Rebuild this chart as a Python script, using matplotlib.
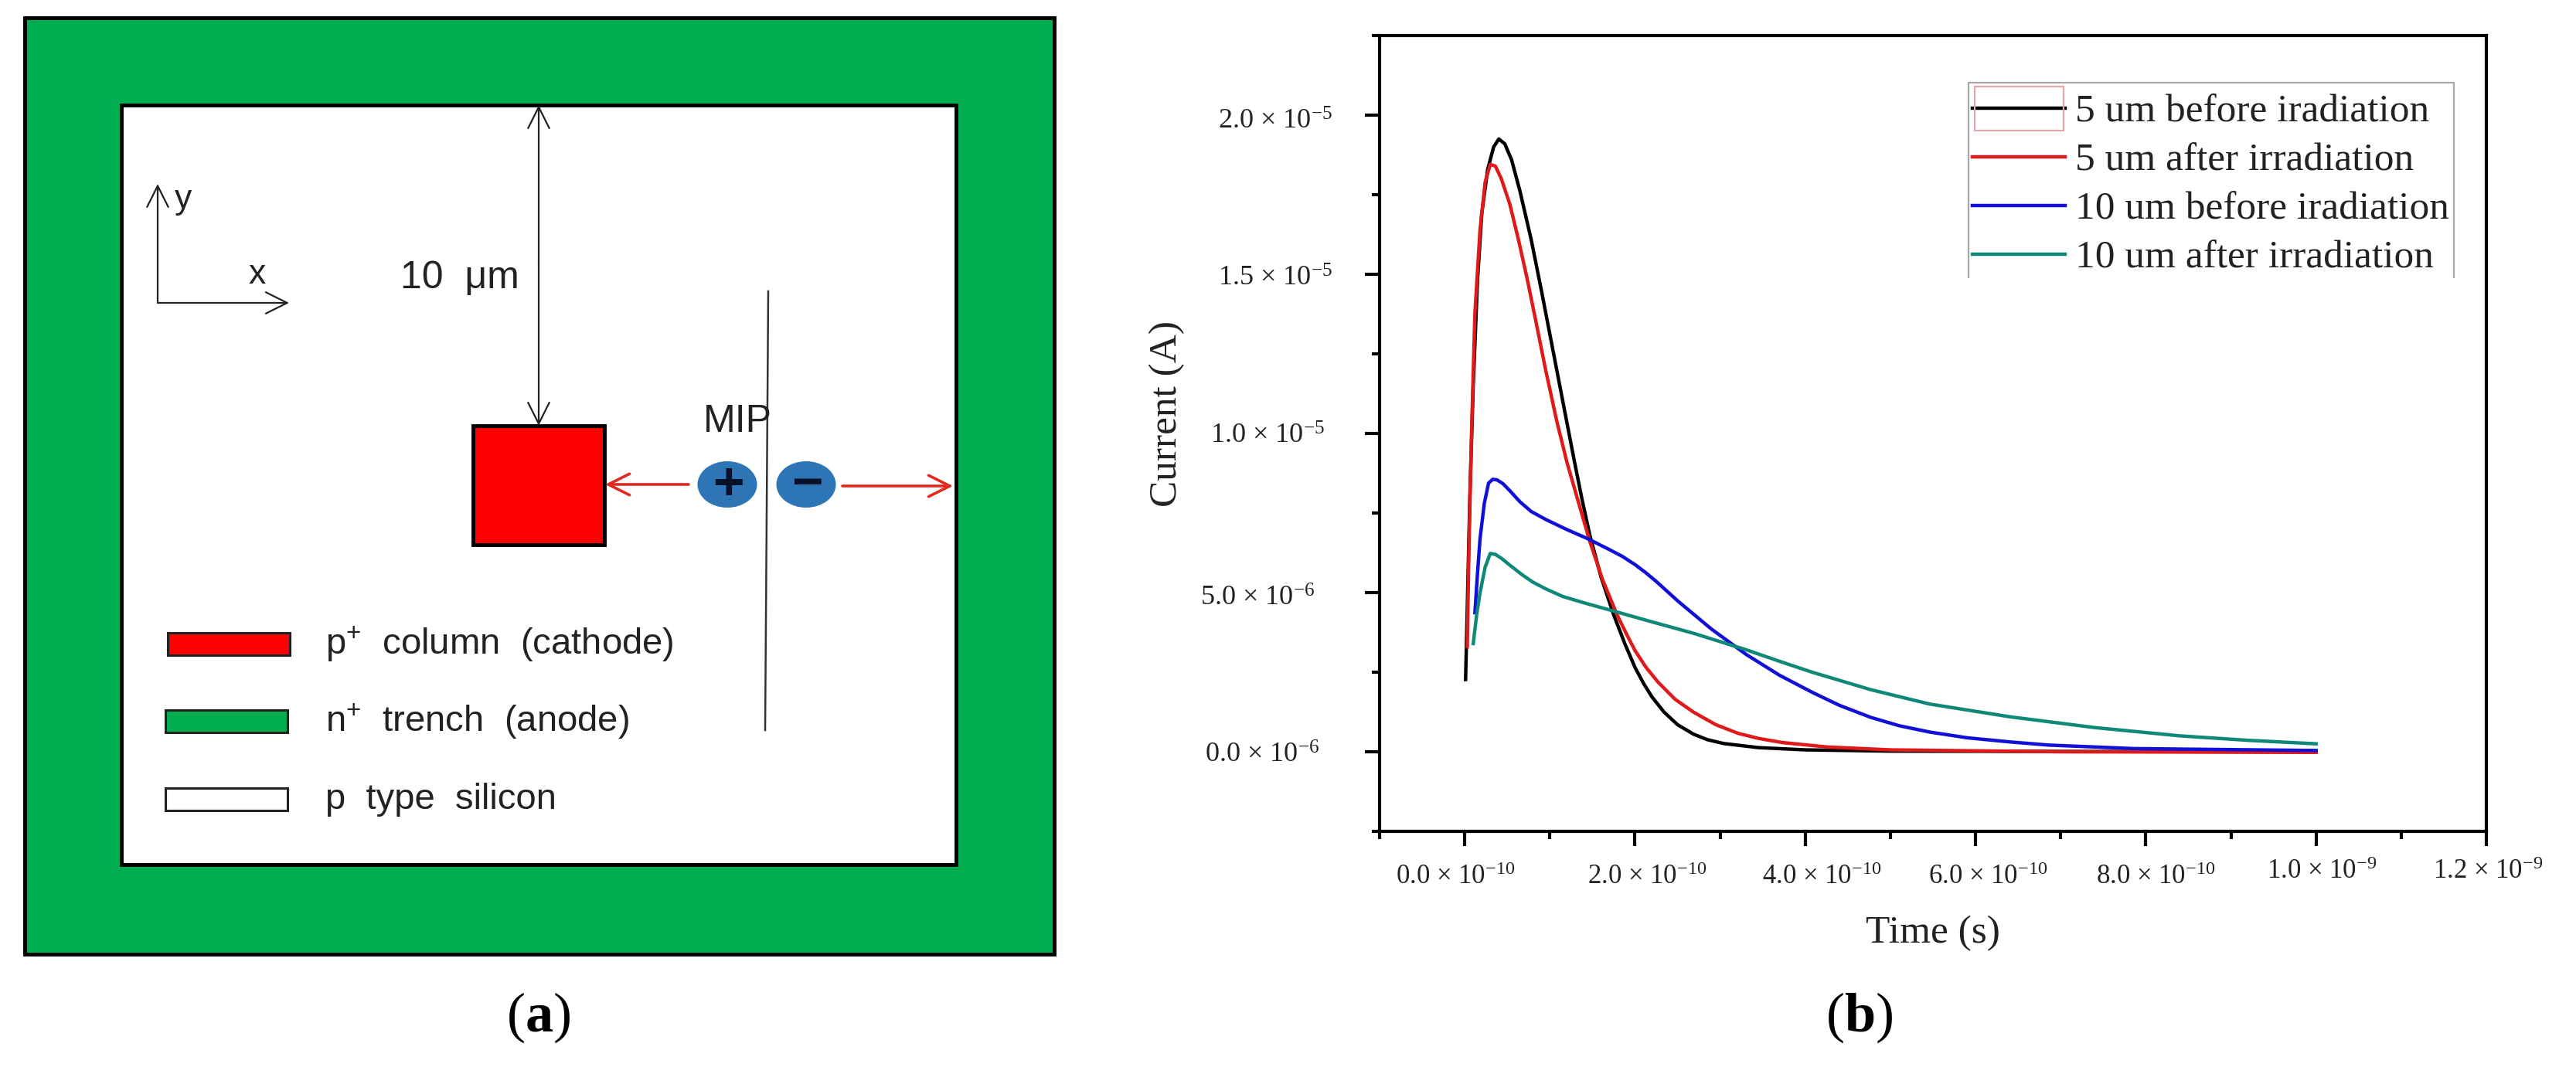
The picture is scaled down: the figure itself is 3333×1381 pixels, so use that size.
import matplotlib
matplotlib.use("Agg")
import matplotlib.pyplot as plt
from matplotlib.patches import Rectangle, Ellipse
from matplotlib.transforms import ScaledTranslation

plt.rcParams["mathtext.fontset"] = "custom"
plt.rcParams["mathtext.rm"] = "Liberation Serif"
plt.rcParams["mathtext.bf"] = "Liberation Serif:bold"
plt.rcParams["mathtext.default"] = "regular"

W, H = 3333, 1381
SERIF = "Liberation Serif"
SANS = "Liberation Sans"

# curves, time in 1e-10 s and current in 1e-6 A
t_black = [0.01, 0.03, 0.06, 0.10, 0.15, 0.20, 0.27, 0.34, 0.40, 0.47, 0.55, 0.65, 0.78, 0.90, 1.03, 1.16, 1.29, 1.38, 1.47, 1.60, 1.75, 1.88, 2.00, 2.10, 2.20, 2.34, 2.50, 2.69, 2.85, 3.04, 3.45, 4.00, 5.00, 7.00, 10.00]
i_black = [2.27, 4.5, 8.0, 11.5, 14.8, 16.9, 18.3, 19.0, 19.25, 19.1, 18.6, 17.6, 16.1, 14.5, 12.7, 10.9, 9.1, 7.9, 6.8, 5.5, 4.3, 3.4, 2.65, 2.15, 1.72, 1.25, 0.85, 0.55, 0.38, 0.26, 0.13, 0.06, 0.02, 0.01, 0.0]

t_red = [0.03, 0.05, 0.08, 0.12, 0.18, 0.24, 0.30, 0.36, 0.43, 0.53, 0.63, 0.73, 0.83, 0.95, 1.08, 1.20, 1.34, 1.47, 1.62, 1.79, 1.90, 2.00, 2.13, 2.27, 2.47, 2.69, 2.95, 3.21, 3.45, 3.73, 4.26, 5.00, 7.00, 10.00]
i_red = [3.3, 6.5, 10.0, 13.8, 16.4, 17.9, 18.45, 18.4, 18.0, 17.2, 16.1, 14.9, 13.6, 12.0, 10.4, 9.1, 7.8, 6.6, 5.4, 4.3, 3.7, 3.18, 2.65, 2.19, 1.65, 1.24, 0.85, 0.58, 0.42, 0.29, 0.15, 0.06, 0.0, -0.02]

t_blue = [0.12, 0.15, 0.18, 0.23, 0.28, 0.33, 0.38, 0.45, 0.53, 0.65, 0.78, 0.95, 1.20, 1.44, 1.70, 1.85, 2.00, 2.12, 2.25, 2.51, 2.90, 3.31, 3.70, 4.08, 4.40, 4.77, 5.10, 5.46, 5.90, 6.40, 6.86, 7.86, 10.00]
i_blue = [4.37, 5.6, 6.7, 7.8, 8.44, 8.56, 8.54, 8.42, 8.2, 7.85, 7.55, 7.3, 6.98, 6.7, 6.35, 6.14, 5.88, 5.64, 5.35, 4.72, 3.85, 3.05, 2.4, 1.87, 1.46, 1.08, 0.82, 0.62, 0.44, 0.31, 0.21, 0.1, 0.04]

t_teal = [0.10, 0.14, 0.18, 0.24, 0.30, 0.36, 0.43, 0.55, 0.68, 0.80, 0.95, 1.15, 1.40, 1.75, 2.20, 2.69, 3.31, 3.70, 4.08, 4.77, 5.46, 6.40, 7.40, 8.40, 9.20, 10.00]
i_teal = [3.4, 4.3, 5.0, 5.8, 6.23, 6.2, 6.08, 5.82, 5.55, 5.33, 5.12, 4.88, 4.68, 4.42, 4.08, 3.72, 3.2, 2.84, 2.5, 1.95, 1.5, 1.1, 0.76, 0.5, 0.36, 0.25]

series_names = ["5 um before iradiation", "5 um after irradiation", "10 um before iradiation", "10 um after irradiation"]
series_colors = ["#000000", "#e01a1a", "#1010d8", "#108878"]

x_major = [0, 2e-10, 4e-10, 6e-10, 8e-10, 1e-9, 1.2e-9]
x_minor = [-1e-10, 1e-10, 3e-10, 5e-10, 7e-10, 9e-10, 1.1e-9]
x_labels = [r"0.0 × 10$^{-10}$", r"2.0 × 10$^{-10}$", r"4.0 × 10$^{-10}$", r"6.0 × 10$^{-10}$", r"8.0 × 10$^{-10}$", r"1.0 × 10$^{-9}$", r"1.2 × 10$^{-9}$"]
y_major = [0, 5e-6, 1e-5, 1.5e-5, 2e-5]
y_minor = [-2.5e-6, 2.5e-6, 7.5e-6, 1.25e-5, 1.75e-5, 2.25e-5]
y_labels = [r"0.0 × 10$^{-6}$", r"5.0 × 10$^{-6}$", r"1.0 × 10$^{-5}$", r"1.5 × 10$^{-5}$", r"2.0 × 10$^{-5}$"]

fig = plt.figure(figsize=(W / 100, H / 100), dpi=100, facecolor="white")

# panel b
ax = fig.add_axes([1785 / W, 1 - 1076 / H, (3217 - 1785) / W, (1076 - 46) / H])
curves = [(t_black, i_black), (t_red, i_red), (t_blue, i_blue), (t_teal, i_teal)]
for (t, cur), name, col in zip(curves, series_names, series_colors):
    ax.plot([v * 1e-10 for v in t], [v * 1e-6 for v in cur], color=col, lw=3.2, label=name, solid_joinstyle="round")

ax.set_xlim(-1e-10, 1.2e-9)
ax.set_ylim(-2.5e-6, 2.25e-5)
for s in ax.spines.values():
    s.set_linewidth(3)
ax.set_xticks(x_major, x_labels, family=SERIF, fontsize=25, color="#222222")
ax.set_xticks(x_minor, minor=True)
ax.set_yticks(y_major, y_labels, family=SERIF, fontsize=26, color="#222222")
ax.set_yticks(y_minor, minor=True)
ax.tick_params(axis="both", which="major", direction="out", length=14, width=3)
ax.tick_params(axis="both", which="minor", direction="out", length=7, width=3)
ax.tick_params(axis="x", which="major", pad=17)
ax.tick_params(axis="y", which="major", pad=0)

# tick labels in the figure sit off their ticks, shift them by hand (pixels)
x_shift = [-12, 16, 21, 16, 13, 7, 2]
x_lift = [0, 0, 0, 0, 0, 7, 7]
for lab, dx, dy in zip(ax.get_xticklabels(), x_shift, x_lift):
    lab.set_transform(lab.get_transform() + ScaledTranslation(dx / 100, dy / 100, fig.dpi_scale_trans))
y_shift = [-58, -64, -52, -42, -42]
y_drop = [1, 4, 0, 2, 5]
for lab, dx, dy in zip(ax.get_yticklabels(), y_shift, y_drop):
    lab.set_transform(lab.get_transform() + ScaledTranslation(dx / 100, -dy / 100, fig.dpi_scale_trans))

# overlay in pixel coordinates for the schematic and hand placed bits
ov = fig.add_axes([0, 0, 1, 1], zorder=5)
ov.set_xlim(0, W)
ov.set_ylim(H, 0)
ov.axis("off")
ov.patch.set_alpha(0)

fig.text(1510 / W, 1 - 535 / H, "Current (A)", rotation=90, ha="center", va="center", family=SERIF, fontsize=37, color="#222222")
fig.text(2501 / W, 1 - 1208 / H, "Time (s)", ha="center", va="center", family=SERIF, fontsize=37, color="#222222")

leg = ax.legend(loc="upper left", bbox_to_anchor=(2552, 122), bbox_transform=ov.transData, frameon=False,
                prop={"family": SERIF, "size": 37}, handlelength=2.33, handletextpad=0.25, labelspacing=0.31,
                borderpad=0, borderaxespad=0)
for h in leg.get_lines():
    h.set_linewidth(3.2)
for lab in leg.get_texts():
    lab.set_color("#222222")

# legend frame has no bottom edge in the original
ov.plot([2547, 2547, 3175, 3175], [359, 107, 107, 359], color="#a8a8a8", lw=1.6)
ov.add_patch(Rectangle((2555, 112), 115, 57, fill=False, ec="#e0a8a8", lw=1.6))

# panel a
GREEN = "#00ae50"
ov.add_patch(Rectangle((32, 23), 1332, 1212, fc=GREEN, ec="black", lw=3.5))
ov.add_patch(Rectangle((157, 136), 1080, 983, fc="white", ec="black", lw=3.5))
ov.add_patch(Rectangle((612, 551), 170, 154, fc="#ff0000", ec="black", lw=3.5))

def arrow(x0, y0, x1, y1, col="#222222", lw=1.6):
    ov.annotate("", xy=(x1, y1), xytext=(x0, y0),
                arrowprops=dict(arrowstyle="->,head_length=0.9,head_width=0.45", color=col, lw=lw, shrinkA=0, shrinkB=0, mutation_scale=22))

arrow(204, 392, 204, 238)
arrow(204, 392, 374, 392)
arrow(697, 340, 697, 136)
arrow(697, 340, 697, 551)
ov.plot([994, 990], [377, 945], color="#333333", lw=1.8)
arrow(891, 627, 783, 627, col="#e02a20", lw=2.6)
arrow(1090, 629, 1233, 629, col="#e02a20", lw=2.6)

for cx, sign in zip([941, 1043], ["+", "−"]):
    ov.add_patch(Ellipse((cx, 627), 77, 60, fc="#2e75b6", ec="none"))
    ov.text(cx + 1, 628, sign, ha="center", va="center", family=SANS, fontweight="bold", fontsize=50, color="#06122a")

sans = dict(family=SANS, color="#222222", ha="left", va="center")
ov.text(226, 258, "y", fontsize=32, **sans)
ov.text(322, 355, "x", fontsize=32, **sans)
ov.text(518, 360, "10  μm", fontsize=36, **sans)
ov.text(910, 546, "MIP", fontsize=36, **sans)

swatch_x = [217, 214, 214]
swatch_y = [819, 919, 1020]
swatch_col = ["#ff0000", GREEN, "white"]
swatch_text = [r"p$^{+}$  column  (cathode)", r"n$^{+}$  trench  (anode)", "p  type  silicon"]
for x, y, col, txt in zip(swatch_x, swatch_y, swatch_col, swatch_text):
    ov.add_patch(Rectangle((x, y), 158, 29, fc=col, ec="#222222", lw=2.2))
    ov.text(421, y + 15, txt, fontsize=34, **sans)

ov.text(697, 1317, r"($\mathbf{a}$)", ha="center", va="center", family=SERIF, fontsize=52, color="black")
ov.text(2406, 1317, r"($\mathbf{b}$)", ha="center", va="center", family=SERIF, fontsize=52, color="black")

fig.savefig("out.png", dpi=100)
